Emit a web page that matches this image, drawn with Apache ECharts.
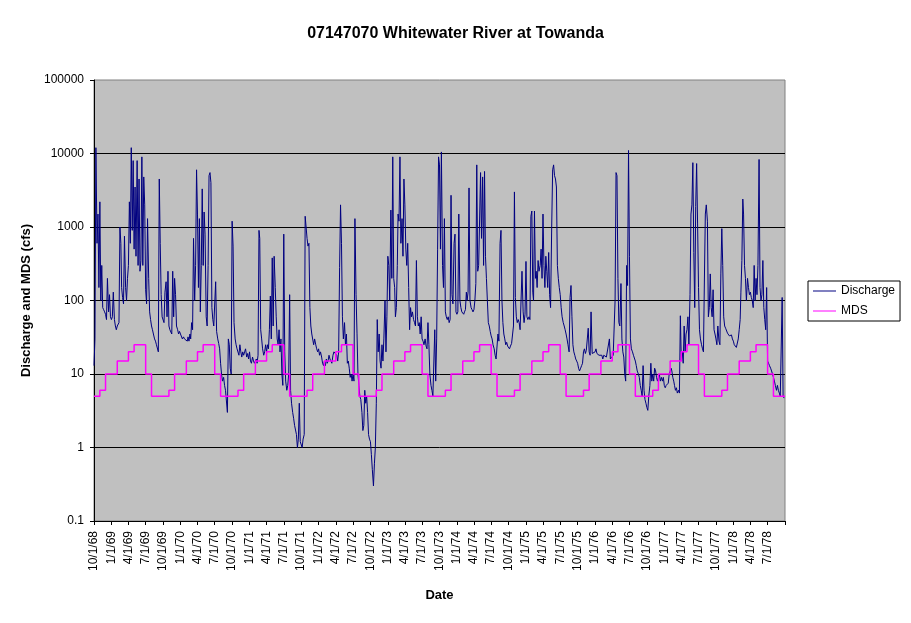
<!DOCTYPE html>
<html>
<head>
<meta charset="utf-8">
<title>07147070 Whitewater River at Towanda</title>
<script src="https://cdn.jsdelivr.net/npm/echarts@6.0.0/dist/echarts.min.js"></script>
<style>
  html, body { margin: 0; padding: 0; background: #fff; }
  #main-chart { width: 911px; height: 623px; }
</style>
</head>
<body>
<div id="main-chart"></div>
<script>
const q1969 = [
  13, 30, 12000, 600, 1500, 150,
  2200, 100, 300, 80, 75, 70,
  65, 55, 200, 70, 120, 60,
  55, 60, 130, 55, 45, 40,
  45, 45, 50, 1000, 600, 150,
  110, 90, 750, 150, 100, 200,
  300, 2200, 600, 12000, 900, 8000,
  500, 3500, 400, 8000, 300, 4500,
  250, 350, 9000, 300, 4800, 2000,
  140, 90, 1300, 200, 70, 55,
  45, 40, 35, 30, 28, 25,
  25, 20, 4500, 600, 120, 60
];
const q1970 = [
  60, 50, 130, 180, 60, 250,
  45, 40, 38, 35, 250, 60,
  200, 120, 45, 40, 35, 38,
  35, 33, 30, 32, 30, 30,
  30, 28, 32, 28, 35, 30,
  50, 40, 700, 100, 300, 6000,
  1500, 150, 1300, 70, 300, 3300,
  300, 1600, 800, 60, 45, 300,
  5000, 5500, 4000, 80, 55, 45,
  45, 180, 38, 30, 26, 22,
  14, 10, 8, 9, 7, 6,
  6, 3, 30, 25, 12, 10
];
const q1971 = [
  1200, 550, 50, 30, 25, 22,
  22, 18, 25, 20, 17, 20,
  18, 20, 22, 17, 19, 16,
  20, 15, 14, 17, 15, 14,
  15, 16, 14, 18, 900, 700,
  40, 30, 22, 18, 20, 25,
  20, 25, 22, 40, 115, 30,
  380, 45, 400, 150, 60, 30,
  25, 40, 20, 30, 10, 7,
  800, 20, 8, 6, 7, 10,
  120, 6, 4, 3, 2.5, 2,
  2, 1.5, 1, 1.3, 4, 1.2
];
const q1972 = [
  1.2, 1, 1.3, 1.5, 1400, 1000,
  700, 550, 600, 80, 45, 35,
  35, 25, 30, 25, 22, 20,
  22, 18, 20, 17, 14, 13,
  15, 13, 16, 14, 15, 18,
  16, 15, 14, 18, 20, 19,
  20, 18, 15, 20, 280, 2000,
  600, 60, 30, 50, 25, 35,
  14, 15, 12, 9, 10, 8,
  10, 8, 1300, 120, 36, 10,
  7, 5, 4.5, 3, 1.7, 2,
  6, 4, 5, 3, 1.5, 1.3
];
const q1973 = [
  1.2, 0.8, 0.5, 0.3, 0.6, 1,
  4, 55, 20, 35, 15, 12,
  25, 15, 30, 100, 20, 60,
  400, 300, 100, 1700, 200, 9000,
  200, 150, 60, 80, 300, 1500,
  1200, 9000, 600, 1300, 400, 4500,
  2000, 500, 300, 600, 150, 40,
  80, 60, 70, 55, 50, 45,
  350, 60, 45, 50, 35, 60,
  30, 28, 25, 30, 24, 22,
  50, 25, 10, 7, 6, 5,
  5, 40, 8, 30, 500, 9000
];
const q1974 = [
  7000, 500, 10500, 300, 150, 1300,
  70, 60, 55, 60, 50, 55,
  2700, 120, 90, 600, 800, 70,
  65, 70, 1500, 100, 80, 70,
  70, 65, 70, 75, 130, 100,
  130, 3400, 100, 80, 75, 70,
  75, 100, 170, 7000, 250, 300,
  300, 5500, 700, 4800, 300, 5700,
  400, 200, 100, 50, 45, 38,
  33, 30, 25, 22, 18, 16,
  16, 35, 28, 600, 900, 100,
  50, 35, 30, 25, 27, 24
];
const q1975 = [
  25, 22, 24, 26, 25, 45,
  3000, 110, 60, 50, 55, 50,
  40, 38, 250, 70, 50, 65,
  340, 60, 55, 60, 55, 1400,
  1650, 130, 100, 1650, 200, 250,
  150, 350, 250, 300, 500, 200,
  1500, 300, 150, 400, 250, 150,
  450, 120, 80, 1000, 6000, 7000,
  5000, 4500, 3500, 300, 200, 150,
  120, 80, 60, 50, 45, 40,
  35, 30, 25, 20, 110, 160,
  60, 25, 20, 18, 16, 15
];
const q1976 = [
  14, 12, 11, 12, 13, 14,
  20, 22, 19, 21, 20, 42,
  20, 18, 70, 19, 20, 19,
  20, 22, 19, 20, 18, 19,
  17, 18, 16, 18, 17, 18,
  17, 17, 17, 30, 16, 17,
  16, 18, 17, 100, 5500, 5000,
  200, 50, 45, 170, 30, 20,
  17, 10, 8, 300, 160, 11000,
  400, 30, 22, 20, 18, 19,
  15, 13, 11, 10, 9, 7,
  6, 5, 13, 6, 4.5, 4
];
const q1977 = [
  3.5, 3.2, 5, 7, 14, 8,
  10, 8, 12, 11, 9, 8,
  9, 10, 8, 9, 8, 9,
  7, 6.5, 7, 6.8, 7.5, 10,
  10, 12, 11, 9, 8, 7,
  6, 6.5, 5.5, 6, 5.5, 62,
  15, 20, 14, 45, 20, 35,
  40, 60, 25, 120, 1500, 2000,
  7500, 450, 80, 1900, 7300, 1100,
  150, 40, 30, 25, 22, 20,
  190, 1500, 2000, 1200, 60, 80,
  230, 80, 60, 140, 40, 35
];
const q1978 = [
  30, 25, 45, 28, 25, 230,
  950, 300, 60, 45, 42, 40,
  36, 35, 33, 32, 34, 30,
  28, 25, 24, 23, 22, 30,
  40, 55, 130, 350, 2400, 1500,
  300, 200, 100, 200, 150, 120,
  130, 110, 100, 80, 300, 100,
  200, 120, 300, 8300, 150, 100,
  120, 350, 80, 55, 40, 150,
  15, 14, 13, 12, 11, 10,
  9, 8, 7, 6, 7, 6,
  5.5, 5, 4.8, 110, 5, 4.7
];
const waterYears = [q1969, q1970, q1971, q1972, q1973, q1974, q1975, q1976, q1977, q1978];

// minimum desirable streamflow by month, Oct..Sep (same every year)
const mdsByMonth = [5, 6, 10, 10, 15, 15, 20, 25, 25, 10, 5, 5];

const DAY = 86400000;
const START = Date.UTC(1968, 9, 1);
const END = Date.UTC(1978, 9, 1);

function dayIndex(y, m, d) {
  return Math.round((Date.UTC(y, m, d) - START) / DAY);
}

// daily categories 10/1/68 .. 10/1/78
let dates = [];
let isQuarter = [];
for (let t = START; t <= END; t += DAY) {
  let d = new Date(t);
  let m = d.getUTCMonth(), dd = d.getUTCDate(), yy = String(d.getUTCFullYear()).slice(2);
  dates.push((m + 1) + '/' + dd + '/' + yy);
  isQuarter.push(dd === 1 && m % 3 === 0);
}
const lastIdx = dates.length - 1;

let discharge = [];
let mds = [];
for (let w = 0; w < waterYears.length; w++) {
  for (let m = 0; m < 12; m++) {
    let cm = (9 + m) % 12;
    let yr = 1968 + w + (m >= 3 ? 1 : 0);
    let dim = new Date(Date.UTC(yr, cm + 1, 0)).getUTCDate();
    for (let j = 0; j < 6; j++) {
      let day = 1 + Math.round(j * dim / 6);
      discharge.push([dayIndex(yr, cm, day), waterYears[w][m * 6 + j]]);
    }
    mds.push([dayIndex(yr, cm, 1), mdsByMonth[m]]);
  }
}
mds.push([lastIdx, mdsByMonth[11]]);

const FONT = '"Liberation Sans", Arial, sans-serif';

let myChart = echarts.init(document.getElementById('main-chart'), null, { renderer: 'canvas' });
myChart.setOption({
  animation: false,
  backgroundColor: '#ffffff',
  title: {
    text: '07147070 Whitewater River at Towanda',
    left: 'center',
    top: 21,
    textStyle: { fontFamily: FONT, fontSize: 16, fontWeight: 'bold', color: '#000' }
  },
  legend: {
    orient: 'vertical',
    left: 808,
    top: 281,
    padding: [4, 5, 4, 5],
    icon: 'rect',
    itemWidth: 23,
    itemHeight: 1,
    itemGap: 8,
    backgroundColor: '#ffffff',
    borderColor: '#000000',
    borderWidth: 1,
    borderRadius: 0,
    textStyle: { fontFamily: FONT, fontSize: 12, color: '#000' },
    data: ['Discharge', 'MDS']
  },
  grid: {
    left: 94, right: 126, top: 80, bottom: 102,
    show: true,
    backgroundColor: '#c0c0c0',
    borderColor: '#808080',
    borderWidth: 1
  },
  xAxis: {
    type: 'category',
    data: dates,
    boundaryGap: false,
    name: 'Date',
    nameLocation: 'middle',
    nameGap: 68,
    nameTextStyle: { fontFamily: FONT, fontSize: 13, fontWeight: 'bold', color: '#000' },
    axisLine: { show: true, lineStyle: { color: '#000', width: 1 } },
    axisTick: {
      show: true, length: 4,
      interval: function (i) { return isQuarter[i]; },
      lineStyle: { color: '#000' }
    },
    axisLabel: {
      rotate: 90,
      margin: 10,
      interval: function (i) { return isQuarter[i] && i < lastIdx; },
      fontFamily: FONT, fontSize: 12, color: '#000'
    },
    splitLine: { show: false }
  },
  yAxis: {
    type: 'log',
    logBase: 10,
    min: 0.1,
    max: 100000,
    splitNumber: 6,
    name: 'Discharge and MDS (cfs)',
    nameLocation: 'middle',
    nameGap: 54,
    nameTextStyle: { fontFamily: FONT, fontSize: 13, fontWeight: 'bold', color: '#000' },
    axisLine: { show: true, lineStyle: { color: '#000', width: 1 } },
    axisTick: { show: true, length: 4, lineStyle: { color: '#000' } },
    minorTick: { show: false },
    axisLabel: {
      margin: 10,
      fontFamily: FONT, fontSize: 12, color: '#000',
      formatter: function (v) { return String(+Number(v).toPrecision(6)); }
    },
    splitLine: { show: true, showMaxLine: false, showMinLine: false, lineStyle: { color: '#000', width: 1 } }
  },
  series: [
    {
      name: 'Discharge',
      type: 'line',
      data: discharge,
      symbol: 'none',
      color: '#000080',
      lineStyle: { color: '#000080', width: 1 }
    },
    {
      name: 'MDS',
      type: 'line',
      data: mds,
      step: 'end',
      symbol: 'none',
      color: '#ff00ff',
      lineStyle: { color: '#ff00ff', width: 1.5 }
    }
  ]
});
</script>
</body>
</html>
